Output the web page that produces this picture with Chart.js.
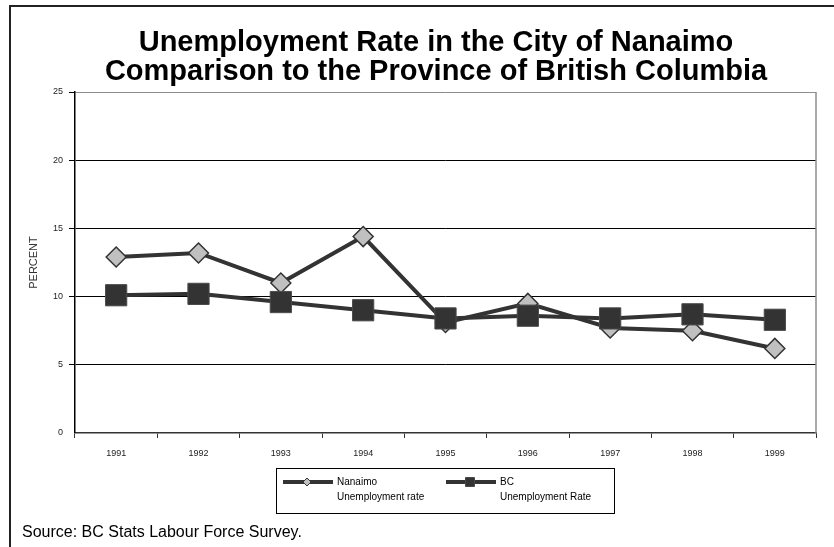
<!DOCTYPE html>
<html>
<head>
<meta charset="utf-8">
<title>Unemployment Rate - Nanaimo and BC</title>
<script src="https://cdn.jsdelivr.net/npm/chart.js@4.4.1/dist/chart.umd.min.js"></script>
<style>
  html, body { margin: 0; padding: 0; background: #fff; }
  #wrap { position: relative; width: 834px; height: 547px; }
</style>
</head>
<body>
<div id="wrap"><canvas id="rateChart" width="834" height="547"></canvas></div>
<script>
// Annual unemployment rate, percent
const years = ['1991', '1992', '1993', '1994', '1995', '1996', '1997', '1998', '1999'];
const nanaimoRate = [12.9, 13.2, 11.0, 14.4, 8.1, 9.5, 7.7, 7.5, 6.2];
const bcRate = [10.1, 10.2, 9.6, 9.0, 8.4, 8.6, 8.4, 8.7, 8.3];
const yTicks = [0, 5, 10, 15, 20, 25];

const titleLines = ['Unemployment Rate in the City of Nanaimo', 'Comparison to the Province of British Columbia'];
const legendLabels = [['Nanaimo', 'Unemployment rate'], ['BC', 'Unemployment Rate']];
const sourceNote = 'Source: BC Stats Labour Force Survey.';

const FONT = '"Liberation Sans", Arial, Helvetica, sans-serif';
const LINE = '#333333';

// frame, title, plot border, legend box and source line
const decorations = {
    id: 'decorations',
    beforeDraw(chart) {
        const c = chart.ctx;
        c.save();
        c.fillStyle = '#fff';
        c.fillRect(0, 0, chart.width, chart.height);
        // outer frame (top and left edges)
        c.strokeStyle = '#222';
        c.lineWidth = 2;
        c.beginPath();
        c.moveTo(10, chart.height);
        c.lineTo(10, 6);
        c.lineTo(chart.width, 6);
        c.stroke();
        c.restore();
    },
    beforeDatasetsDraw(chart) {
        const c = chart.ctx;
        const a = chart.chartArea;
        c.save();
        c.strokeStyle = '#8c8c8c';
        c.lineWidth = 1.5;
        c.beginPath();
        c.moveTo(a.right, a.top);
        c.lineTo(a.right, a.bottom);
        c.stroke();
        c.restore();
    },
    afterDraw(chart) {
        const c = chart.ctx;
        c.save();
        // title
        c.fillStyle = '#000';
        c.textAlign = 'center';
        c.textBaseline = 'alphabetic';
        c.font = 'bold 29px ' + FONT;
        c.fillText(titleLines[0], 436, 51);
        c.fillText(titleLines[1], 436, 80);

        // legend
        const box = { x: 276, y: 468, w: 338, h: 45 };
        c.strokeStyle = '#000';
        c.lineWidth = 1;
        c.strokeRect(box.x + 0.5, box.y + 0.5, box.w, box.h);
        const items = [
            { x: 283, ds: chart.data.datasets[0], labels: legendLabels[0] },
            { x: 446, ds: chart.data.datasets[1], labels: legendLabels[1] }
        ];
        items.forEach(it => {
            const y = 482;
            c.strokeStyle = it.ds.borderColor;
            c.lineWidth = 4;
            c.beginPath();
            c.moveTo(it.x, y);
            c.lineTo(it.x + 50, y);
            c.stroke();
            const mx = it.x + 24;
            c.fillStyle = it.ds.pointBackgroundColor;
            c.strokeStyle = it.ds.pointBorderColor;
            c.lineWidth = 1;
            c.beginPath();
            if (it.ds.pointStyle === 'rectRot') {
                c.moveTo(mx - 4, y);
                c.lineTo(mx, y - 4);
                c.lineTo(mx + 4, y);
                c.lineTo(mx, y + 4);
                c.closePath();
            } else {
                c.rect(mx - 4.5, y - 4.5, 9, 9);
            }
            c.fill();
            c.stroke();
            c.fillStyle = '#000';
            c.font = '10px ' + FONT;
            c.textAlign = 'left';
            c.textBaseline = 'middle';
            c.fillText(it.labels[0], it.x + 54, y);
            c.fillText(it.labels[1], it.x + 54, y + 15);
        });

        // source line
        c.fillStyle = '#000';
        c.font = '16px ' + FONT;
        c.textAlign = 'left';
        c.textBaseline = 'alphabetic';
        c.fillText(sourceNote, 22, 537);
        c.restore();
    }
};

const ctx = document.getElementById('rateChart').getContext('2d');
const chart = new Chart(ctx, {
    type: 'line',
    data: {
        labels: years,
        datasets: [
            {
                label: 'Nanaimo Unemployment rate',
                data: nanaimoRate,
                borderColor: LINE,
                borderWidth: 4,
                pointStyle: 'rectRot',
                pointRadius: 10,
                pointBackgroundColor: '#c0c0c0',
                pointBorderColor: LINE,
                pointBorderWidth: 1.5,
                tension: 0,
                order: 1
            },
            {
                label: 'BC Unemployment Rate',
                data: bcRate,
                borderColor: LINE,
                borderWidth: 4,
                pointStyle: 'rect',
                pointRadius: 15,
                pointBackgroundColor: LINE,
                pointBorderColor: '#4a4a4a',
                pointBorderWidth: 1,
                tension: 0,
                order: 0
            }
        ]
    },
    options: {
        responsive: false,
        animation: false,
        devicePixelRatio: 1,
        layout: {
            padding: { top: 92, left: 0, right: 18, bottom: 84 }
        },
        plugins: {
            legend: { display: false },
            tooltip: { enabled: false }
        },
        scales: {
            x: {
                offset: true,
                afterFit(scale) { scale.height = 30; },
                grid: {
                    offset: true,
                    drawOnChartArea: false,
                    drawTicks: true,
                    tickLength: 5,
                    color: '#333'
                },
                border: { color: '#333', width: 1.5 },
                ticks: {
                    color: '#222',
                    padding: 10,
                    font: { family: FONT, size: 9 }
                }
            },
            y: {
                min: 0,
                max: 25,
                afterFit(scale) { scale.width = 75; },
                afterBuildTicks(scale) {
                    scale.ticks = yTicks.map(v => ({ value: v }));
                },
                grid: {
                    color: c => (c.tick && c.tick.value === 25 ? '#8c8c8c' : '#000'),
                    lineWidth: c => (c.tick && c.tick.value === 0 ? 0 : 1),
                    tickColor: '#000',
                    tickLength: 6,
                    drawTicks: true
                },
                border: { color: '#000', width: 1.5 },
                ticks: {
                    color: '#222',
                    padding: 6,
                    font: { family: FONT, size: 9 }
                },
                title: {
                    display: true,
                    text: 'PERCENT',
                    color: '#333',
                    font: { family: FONT, size: 11 },
                    padding: { top: 27, bottom: 0 }
                }
            }
        }
    },
    plugins: [decorations]
});
</script>
</body>
</html>
